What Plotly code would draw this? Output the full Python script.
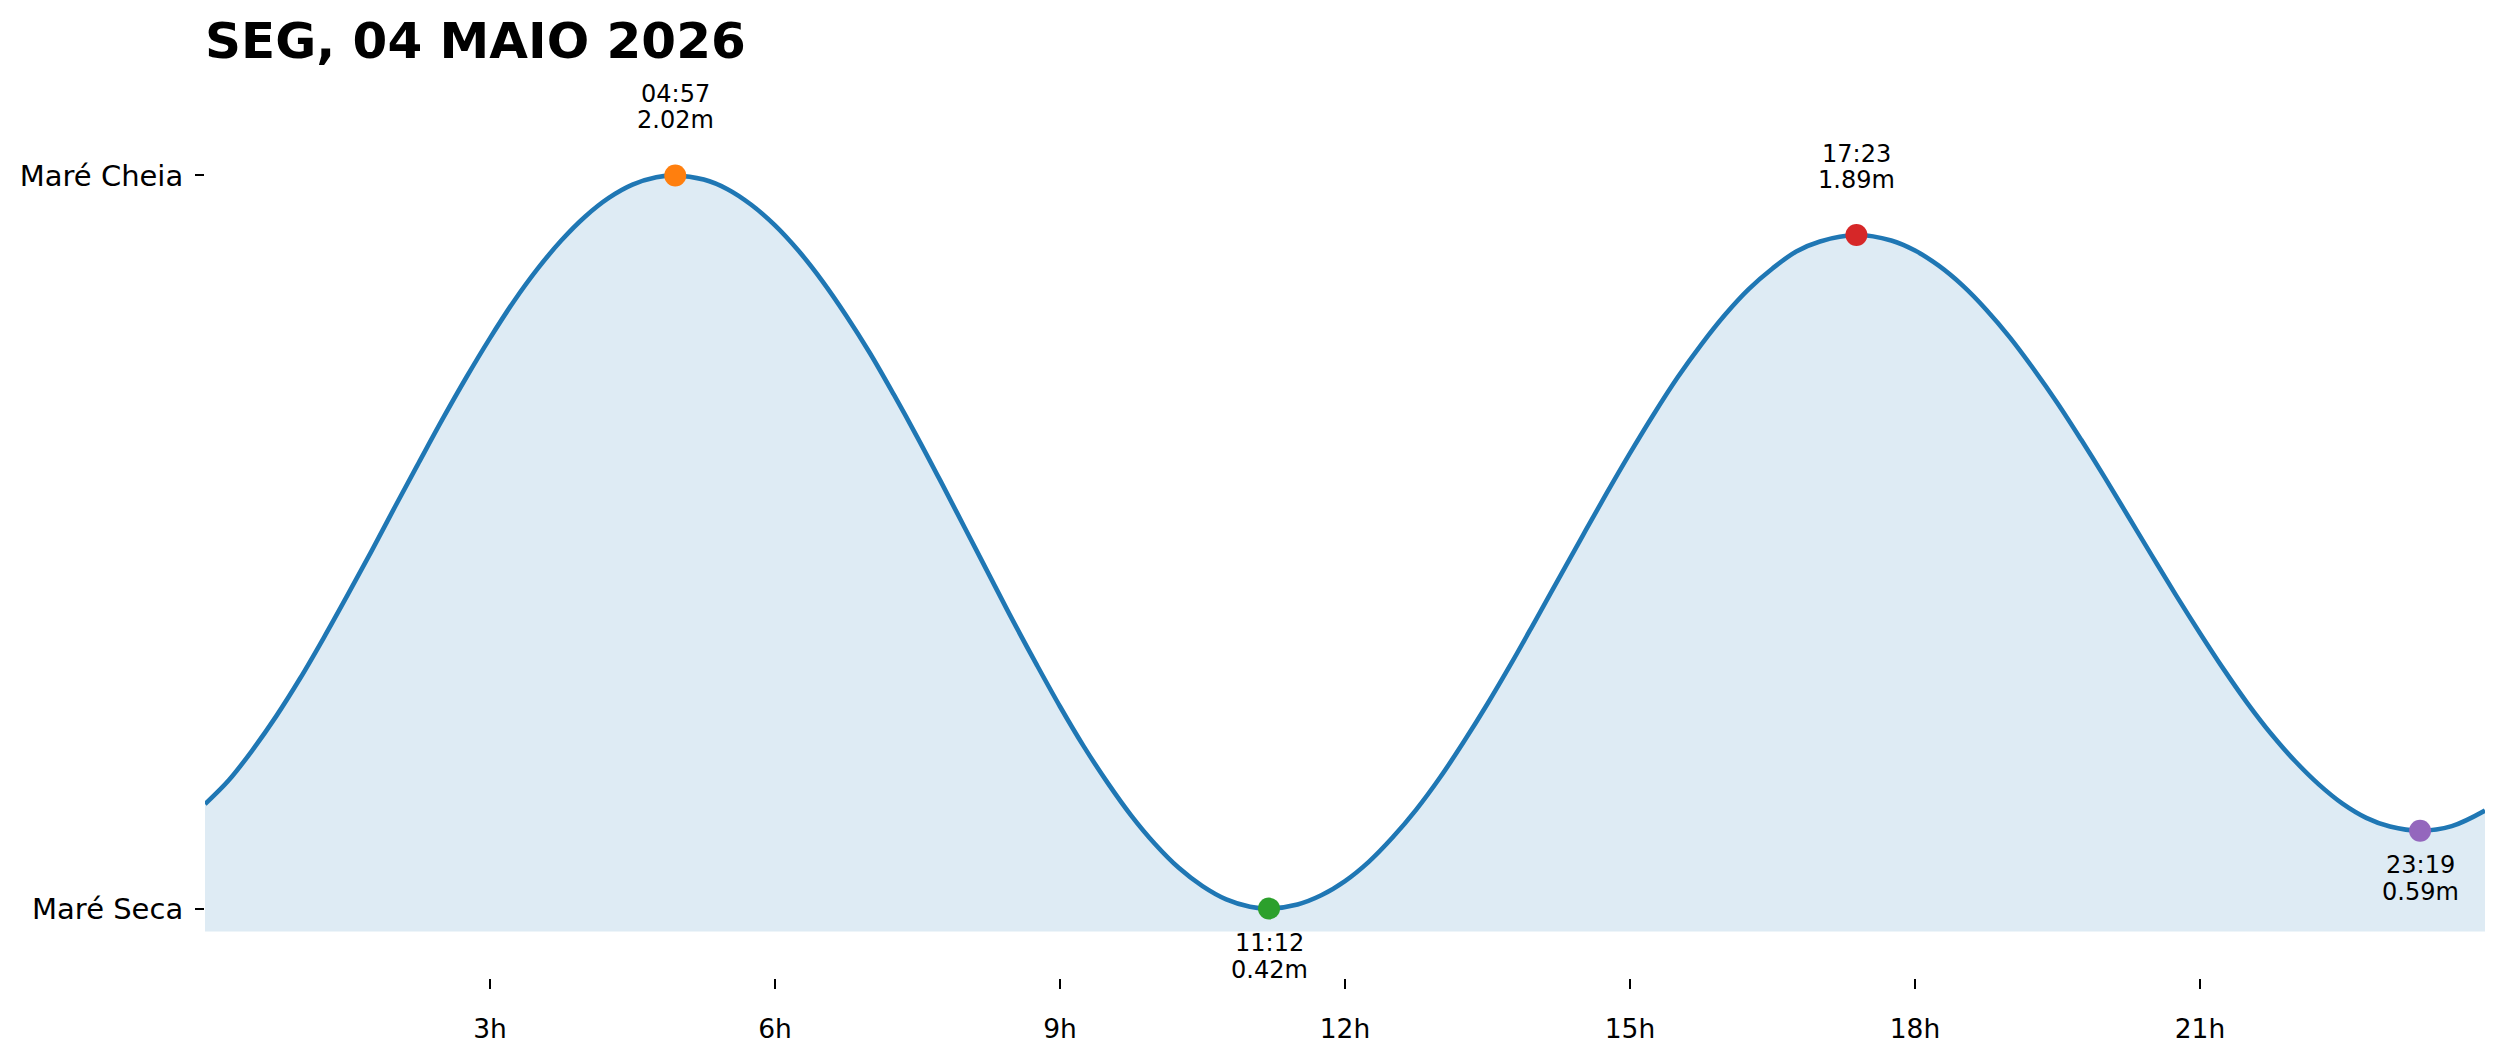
import plotly.graph_objects as go

# ---- data (tide level in metres by hour of day) ----
hours = [0.0, 0.25, 0.5, 0.75, 1.0, 1.25, 1.5, 1.75, 2.0, 2.25, 2.5, 2.75, 3.0, 3.25,
         3.5, 3.75, 4.0, 4.25, 4.5, 4.75, 4.95,
         5.25, 5.5, 5.75, 6.0, 6.25, 6.5, 6.75, 7.0, 7.25, 7.5, 7.75, 8.0, 8.25, 8.5,
         8.75, 9.0, 9.25, 9.5, 9.75, 10.0, 10.25, 10.5, 10.75, 11.0, 11.2,
         11.5, 11.75, 12.0, 12.25, 12.5, 12.75, 13.0, 13.25, 13.5, 13.75, 14.0, 14.25,
         14.5, 14.75, 15.0, 15.25, 15.5, 15.75, 16.0, 16.25, 16.5, 16.75, 17.0, 17.383,
         17.75, 18.0, 18.25, 18.5, 18.75, 19.0, 19.25, 19.5, 19.75, 20.0, 20.25, 20.5,
         20.75, 21.0, 21.25, 21.5, 21.75, 22.0, 22.25, 22.5, 22.75, 23.0, 23.317,
         23.65, 24.0]
levels = [0.648, 0.700, 0.766, 0.840, 0.922, 1.011, 1.104, 1.199, 1.297, 1.393, 1.488, 1.579, 1.665, 1.745,
          1.816, 1.878, 1.930, 1.971, 2.000, 2.016, 2.02,
          2.011, 1.990, 1.956, 1.911, 1.855, 1.789, 1.714, 1.632, 1.542, 1.448, 1.350, 1.250, 1.150, 1.050,
          0.954, 0.861, 0.774, 0.695, 0.623, 0.561, 0.509, 0.469, 0.440, 0.424, 0.42,
          0.429, 0.449, 0.480, 0.522, 0.575, 0.636, 0.706, 0.784, 0.867, 0.955, 1.047, 1.140,
          1.233, 1.325, 1.414, 1.499, 1.579, 1.651, 1.716, 1.772, 1.817, 1.854, 1.876, 1.89,
          1.878, 1.856, 1.823, 1.780, 1.727, 1.666, 1.597, 1.523, 1.443, 1.360, 1.274, 1.188,
          1.103, 1.021, 0.942, 0.868, 0.801, 0.742, 0.691, 0.649, 0.618, 0.599, 0.59,
          0.600, 0.634]

extreme_times = ["04:57", "11:12", "17:23", "23:19"]
extreme_levels = [2.02, 0.42, 1.89, 0.59]
extreme_kinds = ["high", "low", "high", "low"]
extreme_colors = ["#ff7f0e", "#2ca02c", "#d62728", "#9467bd"]

x_tick_vals = [3, 6, 9, 12, 15, 18, 21]
x_tick_text = ["3h", "6h", "9h", "12h", "15h", "18h", "21h"]
y_tick_text = ["Maré Seca", "Maré Cheia"]
title_text = "SEG, 04 MAIO 2026"

FONT = "DejaVu Sans"
W, H = 2501, 1062

extreme_hours = [int(s.split(":")[0]) + int(s.split(":")[1]) / 60 for s in extreme_times]

fig = go.Figure()
fig.add_trace(go.Scatter(
    x=hours, y=levels, mode="lines",
    line=dict(color="#1f77b4", width=4.6, shape="spline", smoothing=1.0),
    fill="tozeroy", fillcolor="rgba(31,119,180,0.15)",
    hoverinfo="skip", showlegend=False,
))
fig.add_trace(go.Scatter(
    x=extreme_hours, y=extreme_levels, mode="markers",
    marker=dict(color=extreme_colors, size=22, line=dict(width=0)),
    showlegend=False,
))

for t, h, lab, kind in zip(extreme_hours, extreme_levels, extreme_times, extreme_kinds):
    if kind == "high":
        shifts = (81, 55)
    else:
        shifts = (-34, -61)
    for txt, sh in zip((lab, f"{h:.2f}m"), shifts):
        fig.add_annotation(
            x=t, y=h, xref="x", yref="y", text=txt, showarrow=False,
            xanchor="center", yanchor="middle", yshift=sh,
            font=dict(family=FONT, size=24, color="black"),
        )

y_lo, y_hi = 0.37, 2.237
plot_top, plot_bottom, axis_y = 76, 931.5, 978
m_b = H - axis_y
paper_h = H - plot_top - m_b
dom0 = (axis_y - plot_bottom) / paper_h

fig.update_layout(
    width=W, height=H,
    margin=dict(l=205, r=16, t=plot_top, b=m_b, pad=0, autoexpand=False),
    paper_bgcolor="white", plot_bgcolor="white",
    font=dict(family=FONT, color="black"),
    title=dict(
        text=f"<b>{title_text}</b>",
        font=dict(family=FONT, size=50, color="black"),
        x=0, xref="paper", xanchor="left",
        y=1 - 40 / H, yref="container", yanchor="middle",
    ),
    xaxis=dict(
        range=[0, 24], anchor="free", position=0, automargin=False,
        tickmode="array", tickvals=x_tick_vals, ticktext=x_tick_text,
        ticks="outside", ticklen=10, tickwidth=2, tickcolor="black",
        ticklabelstandoff=17,
        showgrid=False, zeroline=False, showline=False,
        tickfont=dict(family=FONT, size=26.5, color="black"),
    ),
    yaxis=dict(
        range=[y_lo, y_hi], domain=[dom0, 1], automargin=False,
        tickmode="array", tickvals=[min(extreme_levels), max(extreme_levels)],
        ticktext=y_tick_text,
        ticks="outside", ticklen=9, tickwidth=2, tickcolor="black",
        ticklabelstandoff=6,
        showgrid=False, zeroline=False, showline=False,
        tickfont=dict(family=FONT, size=29, color="black"),
    ),
)

fig.write_html("out.html", config={"displayModeBar": False},
               post_script="document.body.style.margin='0';")
